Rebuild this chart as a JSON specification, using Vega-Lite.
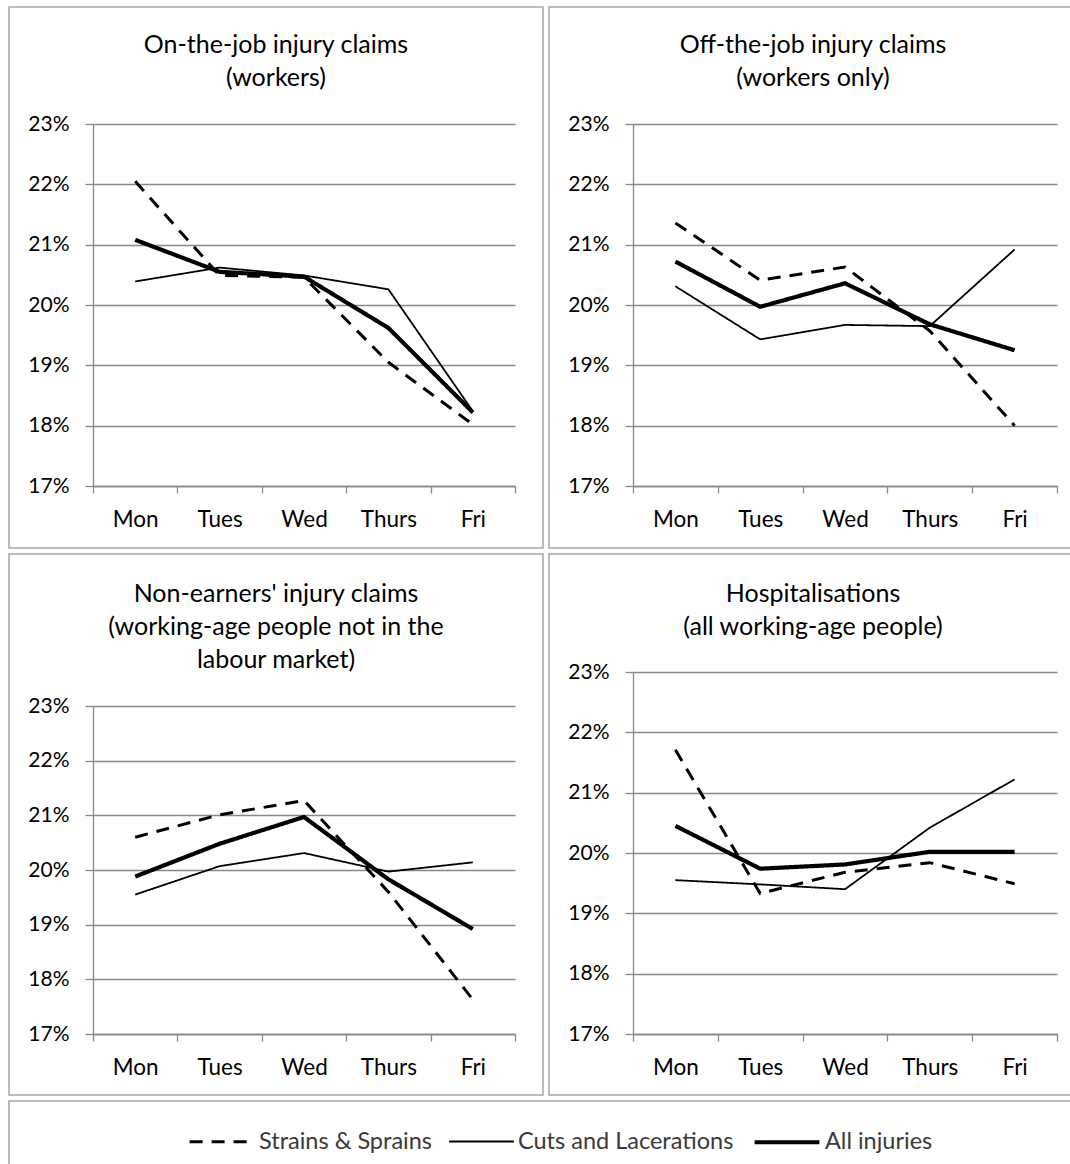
{
  "$schema": "https://vega.github.io/schema/vega-lite/v6.json",
  "padding": {"left": 8, "top": 6, "right": 0, "bottom": 0},
  "background": "white",
  "datasets": {
    "p1": [
      {"day": "Mon", "series": "Strains & Sprains", "value": 0.2205},
      {"day": "Tues", "series": "Strains & Sprains", "value": 0.2049},
      {"day": "Wed", "series": "Strains & Sprains", "value": 0.2046},
      {"day": "Thurs", "series": "Strains & Sprains", "value": 0.1905},
      {"day": "Fri", "series": "Strains & Sprains", "value": 0.1802},
      {"day": "Mon", "series": "Cuts and Lacerations", "value": 0.2039},
      {"day": "Tues", "series": "Cuts and Lacerations", "value": 0.2062},
      {"day": "Wed", "series": "Cuts and Lacerations", "value": 0.2049},
      {"day": "Thurs", "series": "Cuts and Lacerations", "value": 0.2026},
      {"day": "Fri", "series": "Cuts and Lacerations", "value": 0.1824},
      {"day": "Mon", "series": "All injuries", "value": 0.2108},
      {"day": "Tues", "series": "All injuries", "value": 0.2055},
      {"day": "Wed", "series": "All injuries", "value": 0.2047},
      {"day": "Thurs", "series": "All injuries", "value": 0.1962},
      {"day": "Fri", "series": "All injuries", "value": 0.1822}
    ],
    "p2": [
      {"day": "Mon", "series": "Strains & Sprains", "value": 0.2136},
      {"day": "Tues", "series": "Strains & Sprains", "value": 0.2041},
      {"day": "Wed", "series": "Strains & Sprains", "value": 0.2063},
      {"day": "Thurs", "series": "Strains & Sprains", "value": 0.1957},
      {"day": "Fri", "series": "Strains & Sprains", "value": 0.1800},
      {"day": "Mon", "series": "Cuts and Lacerations", "value": 0.2031},
      {"day": "Tues", "series": "Cuts and Lacerations", "value": 0.1943},
      {"day": "Wed", "series": "Cuts and Lacerations", "value": 0.1967},
      {"day": "Thurs", "series": "Cuts and Lacerations", "value": 0.1965},
      {"day": "Fri", "series": "Cuts and Lacerations", "value": 0.2092},
      {"day": "Mon", "series": "All injuries", "value": 0.2072},
      {"day": "Tues", "series": "All injuries", "value": 0.1997},
      {"day": "Wed", "series": "All injuries", "value": 0.2036},
      {"day": "Thurs", "series": "All injuries", "value": 0.1968},
      {"day": "Fri", "series": "All injuries", "value": 0.1925}
    ],
    "p3": [
      {"day": "Mon", "series": "Strains & Sprains", "value": 0.2060},
      {"day": "Tues", "series": "Strains & Sprains", "value": 0.2101},
      {"day": "Wed", "series": "Strains & Sprains", "value": 0.2127},
      {"day": "Thurs", "series": "Strains & Sprains", "value": 0.1960},
      {"day": "Fri", "series": "Strains & Sprains", "value": 0.1763},
      {"day": "Mon", "series": "Cuts and Lacerations", "value": 0.1955},
      {"day": "Tues", "series": "Cuts and Lacerations", "value": 0.2007},
      {"day": "Wed", "series": "Cuts and Lacerations", "value": 0.2031},
      {"day": "Thurs", "series": "Cuts and Lacerations", "value": 0.1997},
      {"day": "Fri", "series": "Cuts and Lacerations", "value": 0.2014},
      {"day": "Mon", "series": "All injuries", "value": 0.1988},
      {"day": "Tues", "series": "All injuries", "value": 0.2048},
      {"day": "Wed", "series": "All injuries", "value": 0.2097},
      {"day": "Thurs", "series": "All injuries", "value": 0.1983},
      {"day": "Fri", "series": "All injuries", "value": 0.1892}
    ],
    "p4": [
      {"day": "Mon", "series": "Strains & Sprains", "value": 0.2171},
      {"day": "Tues", "series": "Strains & Sprains", "value": 0.1933},
      {"day": "Wed", "series": "Strains & Sprains", "value": 0.1968},
      {"day": "Thurs", "series": "Strains & Sprains", "value": 0.1984},
      {"day": "Fri", "series": "Strains & Sprains", "value": 0.1949},
      {"day": "Mon", "series": "Cuts and Lacerations", "value": 0.1955},
      {"day": "Tues", "series": "Cuts and Lacerations", "value": 0.1948},
      {"day": "Wed", "series": "Cuts and Lacerations", "value": 0.1940},
      {"day": "Thurs", "series": "Cuts and Lacerations", "value": 0.2042},
      {"day": "Fri", "series": "Cuts and Lacerations", "value": 0.2122},
      {"day": "Mon", "series": "All injuries", "value": 0.2045},
      {"day": "Tues", "series": "All injuries", "value": 0.1974},
      {"day": "Wed", "series": "All injuries", "value": 0.1981},
      {"day": "Thurs", "series": "All injuries", "value": 0.2002},
      {"day": "Fri", "series": "All injuries", "value": 0.2002}
    ]
  },
  "spacing": 4,
  "resolve": {"scale": {"strokeDash": "shared", "strokeWidth": "shared"}, "legend": {"strokeDash": "shared", "strokeWidth": "shared"}},
  "vconcat": [
    {
      "spacing": 4,
      "resolve": {"scale": {"strokeDash": "shared", "strokeWidth": "shared"}},
      "hconcat": [
        {
          "data": {"name": "p1"},
          "title": {"text": ["On-the-job injury claims", "(workers)"], "offset": -83.5},
          "width": 534, "height": 541,
          "mark": {"type": "line", "color": "black"},
          "encoding": {
            "x": {"field": "day", "type": "nominal", "sort": ["Mon", "Tues", "Wed", "Thurs", "Fri"], "bandPosition": 0.5, "scale": {"type": "band", "paddingInner": 0, "paddingOuter": 0, "range": [84, 506]}, "axis": {"title": null, "offset": -62}},
            "y": {"field": "value", "type": "quantitative", "scale": {"domain": [0.17, 0.23], "nice": false, "zero": false, "range": [479, 117]}, "axis": {"title": null, "offset": -84, "values": [0.17, 0.18, 0.19, 0.2, 0.21, 0.22, 0.23], "format": ".0%"}},
            "strokeDash": {"field": "series", "type": "nominal", "scale": {"domain": ["Strains & Sprains", "Cuts and Lacerations", "All injuries"], "range": [[13, 9], [1, 0], [1, 0]]}},
            "strokeWidth": {"field": "series", "type": "nominal", "scale": {"type": "ordinal", "domain": ["Strains & Sprains", "Cuts and Lacerations", "All injuries"], "range": [3, 1.8, 4.2]}}
          }
        },
        {
          "data": {"name": "p2"},
          "title": {"text": ["Off-the-job injury claims", "(workers only)"], "offset": -83.5},
          "width": 528, "height": 541,
          "mark": {"type": "line", "color": "black"},
          "encoding": {
            "x": {"field": "day", "type": "nominal", "sort": ["Mon", "Tues", "Wed", "Thurs", "Fri"], "bandPosition": 0.5, "scale": {"type": "band", "paddingInner": 0, "paddingOuter": 0, "range": [84, 508]}, "axis": {"title": null, "offset": -62}},
            "y": {"field": "value", "type": "quantitative", "scale": {"domain": [0.17, 0.23], "nice": false, "zero": false, "range": [479, 117]}, "axis": {"title": null, "offset": -84, "values": [0.17, 0.18, 0.19, 0.2, 0.21, 0.22, 0.23], "format": ".0%"}},
            "strokeDash": {"field": "series", "type": "nominal", "scale": {"domain": ["Strains & Sprains", "Cuts and Lacerations", "All injuries"], "range": [[13, 9], [1, 0], [1, 0]]}},
            "strokeWidth": {"field": "series", "type": "nominal", "scale": {"type": "ordinal", "domain": ["Strains & Sprains", "Cuts and Lacerations", "All injuries"], "range": [3, 1.8, 4.2]}}
          }
        }
      ]
    },
    {
      "spacing": 4,
      "resolve": {"scale": {"strokeDash": "shared", "strokeWidth": "shared"}},
      "hconcat": [
        {
          "data": {"name": "p3"},
          "title": {"text": ["Non-earners' injury claims", "(working-age people not in the", "labour market)"], "offset": -118.5},
          "width": 534, "height": 541,
          "mark": {"type": "line", "color": "black"},
          "encoding": {
            "x": {"field": "day", "type": "nominal", "sort": ["Mon", "Tues", "Wed", "Thurs", "Fri"], "bandPosition": 0.5, "scale": {"type": "band", "paddingInner": 0, "paddingOuter": 0, "range": [84, 506]}, "axis": {"title": null, "offset": -61}},
            "y": {"field": "value", "type": "quantitative", "scale": {"domain": [0.17, 0.23], "nice": false, "zero": false, "range": [480, 152]}, "axis": {"title": null, "offset": -84, "values": [0.17, 0.18, 0.19, 0.2, 0.21, 0.22, 0.23], "format": ".0%"}},
            "strokeDash": {"field": "series", "type": "nominal", "scale": {"domain": ["Strains & Sprains", "Cuts and Lacerations", "All injuries"], "range": [[13, 9], [1, 0], [1, 0]]}},
            "strokeWidth": {"field": "series", "type": "nominal", "scale": {"type": "ordinal", "domain": ["Strains & Sprains", "Cuts and Lacerations", "All injuries"], "range": [3, 1.8, 4.2]}}
          }
        },
        {
          "data": {"name": "p4"},
          "title": {"text": ["Hospitalisations", "(all working-age people)"], "offset": -85.5},
          "width": 528, "height": 541,
          "mark": {"type": "line", "color": "black"},
          "encoding": {
            "x": {"field": "day", "type": "nominal", "sort": ["Mon", "Tues", "Wed", "Thurs", "Fri"], "bandPosition": 0.5, "scale": {"type": "band", "paddingInner": 0, "paddingOuter": 0, "range": [84, 508]}, "axis": {"title": null, "offset": -61}},
            "y": {"field": "value", "type": "quantitative", "scale": {"domain": [0.17, 0.23], "nice": false, "zero": false, "range": [480, 118]}, "axis": {"title": null, "offset": -84, "values": [0.17, 0.18, 0.19, 0.2, 0.21, 0.22, 0.23], "format": ".0%"}},
            "strokeDash": {"field": "series", "type": "nominal", "scale": {"domain": ["Strains & Sprains", "Cuts and Lacerations", "All injuries"], "range": [[13, 9], [1, 0], [1, 0]]}},
            "strokeWidth": {"field": "series", "type": "nominal", "scale": {"type": "ordinal", "domain": ["Strains & Sprains", "Cuts and Lacerations", "All injuries"], "range": [3, 1.8, 4.2]}}
          }
        }
      ]
    },
    {
      "data": {"values": [{"note": ""}]},
      "width": 1066, "height": 64,
      "mark": {"type": "text", "text": ""},
      "encoding": {
        "x": {"field": "note", "type": "nominal", "axis": null}
      }
    }
  ],
  "config": {
    "font": "Lato",
    "view": {"stroke": "#a6a6a6", "strokeWidth": 1.5},
    "axis": {"labelFont": "Lato", "labelColor": "#000", "domainColor": "#888888", "tickColor": "#888888", "gridColor": "#888888", "domainWidth": 1.3, "tickWidth": 1.3, "gridWidth": 1.3},
    "axisY": {"tickSize": 8, "labelPadding": 16, "grid": true, "labelFontSize": 21},
    "axisX": {"tickSize": 7, "labelPadding": 15, "grid": false, "tickBand": "extent", "labelAngle": 0, "labelFontSize": 22.5},
    "title": {"font": "Lato", "fontSize": 25, "fontWeight": "normal", "color": "#000", "lineHeight": 33, "anchor": "middle", "frame": "bounds"},
    "legend": {
      "orient": "none", "legendX": 179, "legendY": 1100, "direction": "horizontal", "title": null,
      "symbolType": "stroke", "symbolSize": 4200, "symbolStrokeColor": "black",
      "labelFont": "Lato", "labelFontSize": 23.5, "labelColor": "#3a3a3a", "labelOffset": 3, "labelLimit": 400, "columnPadding": 12, "padding": 0
    }
  }
}
